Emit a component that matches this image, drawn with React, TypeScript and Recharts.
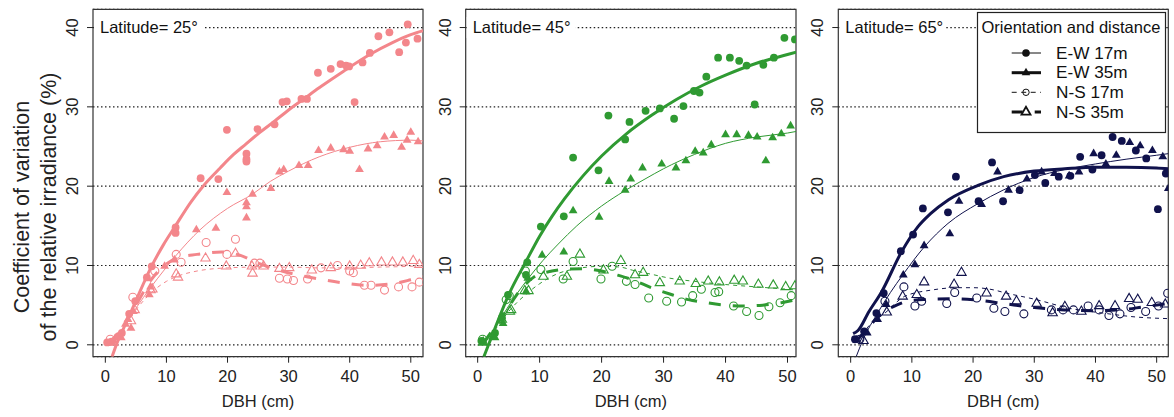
import React from "react";
import {
  ComposedChart,
  XAxis,
  YAxis,
  CartesianGrid,
  Scatter,
  Line,
  ReferenceArea
} from "recharts";

type Pt = [number, number];

const FONT = "'Liberation Sans', Arial, Helvetica, sans-serif";
const xTicks = [0, 10, 20, 30, 40, 50];
const yTicks = [0, 10, 20, 30, 40];
const yDomain: [number, number] = [-1.5, 42.3];

// latitude 25
const lat25Dots: Pt[] = [[0.3,0.3],[1.0,0.4],[2.0,1.0],[2.7,1.5],[3.9,3.9],[4.9,5.5],[6.8,8.5],[7.6,9.9],[11.5,14.1],[11.5,14.8],[15.6,21.0],[18.5,20.9],[19.9,27.1],[23.1,23.1],[23.1,23.4],[23.1,24.1],[24.9,27.2],[27.7,27.8],[29.0,30.6],[29.7,30.7],[32.1,31.0],[33.0,31.0],[34.8,34.3],[36.9,34.8],[38.5,35.4],[39.4,35.2],[39.9,35.1],[40.8,30.6],[42.1,35.6],[43.3,36.8],[44.7,38.9],[46.5,39.4],[48.1,36.9],[49.2,38.1],[49.5,40.4],[51.1,38.6]];
const lat25Tris: Pt[] = [[1.3,0.5],[2.6,0.9],[3.3,2.6],[3.7,3.2],[4.2,2.1],[4.6,4.2],[7.2,6.3],[7.4,7.3],[9.7,9.9],[11.3,10.7],[14.9,14.5],[18.1,14.7],[19.9,19.2],[23.1,16.0],[23.1,17.4],[23.1,17.9],[24.1,19.0],[27.1,19.7],[28.5,21.8],[29.2,22.1],[31.7,22.6],[33.2,22.6],[34.9,24.5],[36.9,24.8],[39.0,24.6],[40.0,24.4],[41.6,22.1],[43.0,24.7],[44.5,25.1],[45.7,26.2],[47.2,26.4],[48.5,24.9],[49.4,25.8],[50.0,26.8],[51.2,25.6]];
const lat25Rings: Pt[] = [[0.8,0.7],[4.5,6.0],[8.1,9.3],[11.6,11.4],[12.4,10.4],[16.5,12.9],[19.9,11.4],[21.3,13.3],[24.4,10.3],[25.3,10.3],[28.5,8.4],[29.8,8.3],[30.8,8.1],[33.1,8.3],[35.3,9.7],[38.0,10.0],[40.0,9.3],[40.6,9.1],[42.4,7.5],[43.5,7.5],[45.7,6.9],[48.0,7.3],[50.2,7.3],[51.4,7.9]];
const lat25OpenTris: Pt[] = [[1.3,0.3],[4.2,3.0],[4.8,4.4],[7.4,6.9],[7.7,7.0],[11.6,8.9],[11.9,8.5],[16.4,10.9],[19.8,9.9],[21.3,11.5],[24.0,9.9],[24.1,9.0],[25.9,9.9],[28.5,9.6],[30.1,9.7],[33.8,9.4],[36.9,9.7],[40.0,9.9],[41.8,10.0],[43.2,10.3],[45.2,10.4],[47.0,10.4],[48.7,10.4],[50.4,10.6],[51.4,10.1]];
const lat25ThickSolid: Pt[] = [[1.1,-1.5],[2,0.4],[3,2.1],[4.8,5.2],[7.5,9.8],[9.5,12.6],[11.4,14.9],[14,18.0],[16,20.0],[18.8,22.3],[21,24.0],[23,25.3],[25,26.6],[27.7,28.2],[30,29.6],[32.5,31.0],[35,32.4],[39,34.5],[43.3,36.6],[47,38.1],[50,39.1],[52,39.6]];
const lat25ThinSolid: Pt[] = [[1,0],[3,2.2],[5,4.6],[7.5,7.3],[9.5,9.3],[11.5,11.2],[15.5,14.5],[20,17.2],[24.1,19.0],[27,20.6],[30,21.9],[35,23.7],[40,24.9],[45,25.6],[50,25.8],[52,25.7]];
const lat25ThickDash: Pt[] = [[1,0.3],[3,2.5],[5,5.0],[7.5,8.2],[10,10.2],[12,11.0],[15,11.4],[19,11.7],[22,11.3],[25,10.3],[28,9.5],[31,8.9],[35,8.3],[39,7.8],[43,7.5],[47,7.7],[50,8.2],[52,8.6]];
const lat25ThinDash: Pt[] = [[1,0.3],[3,2.2],[5,4.4],[8,6.9],[10,8.0],[12,8.7],[15,9.3],[20,9.7],[25,9.8],[30,9.8],[35,9.7],[40,9.7],[45,9.8],[50,9.9],[52,10.0]];

// latitude 45
const lat45Dots: Pt[] = [[0.6,0.5],[2.8,1.5],[3.9,3.4],[4.9,6.3],[7.8,8.8],[8.0,10.4],[10.2,14.9],[13.9,16.2],[15.4,23.6],[19.5,22.0],[21.1,28.9],[23.8,25.9],[24.5,28.1],[27.1,29.5],[29.4,29.8],[31.7,28.5],[33.2,30.1],[34.9,32.0],[35.8,31.8],[36.9,33.8],[38.8,36.2],[40.7,36.2],[42.2,35.8],[43.4,35.2],[44.7,30.3],[46.1,35.3],[47.8,36.2],[49.5,38.7],[51.2,38.5]];
const lat45Tris: Pt[] = [[0.9,0.3],[2.4,1.0],[2.8,0.9],[3.9,3.6],[4.1,2.7],[7.8,6.7],[8.1,8.4],[10.4,11.3],[13.9,11.7],[15.4,16.9],[19.6,16.1],[21.2,20.6],[23.8,19.5],[24.7,20.9],[26.6,22.3],[29.7,22.8],[32.0,22.3],[33.6,23.2],[35.1,24.4],[36.4,24.2],[37.7,25.2],[40.0,26.5],[41.8,26.5],[43.7,26.4],[45.1,26.2],[46.5,23.2],[47.6,26.1],[49.0,26.6],[50.5,27.6]];
const lat45Rings: Pt[] = [[0.8,0.7],[4.6,5.7],[5.1,6.2],[7.7,9.3],[10.2,9.5],[13.8,8.3],[15.4,10.5],[19.9,8.3],[21.7,9.9],[24.0,8.0],[25.4,7.6],[27.6,5.9],[30.5,5.5],[32.9,5.4],[34.7,6.2],[36.1,7.0],[38.3,6.6],[38.9,6.7],[41.3,4.9],[43.4,4.2],[45.4,3.7],[47.0,4.8],[48.8,5.3],[50.6,6.2]];
const lat45OpenTris: Pt[] = [[0.9,0.3],[3.9,3.2],[5.2,4.2],[5.4,4.4],[7.6,6.8],[8.2,6.8],[10.6,8.6],[14.4,8.6],[16.5,11.4],[20.3,9.4],[23.1,10.6],[25.4,8.8],[26.7,9.1],[29.4,7.8],[32.6,8.0],[35.2,7.7],[37.2,8.0],[39.0,7.9],[41.4,8.1],[42.8,8.0],[45.3,7.6],[47.7,7.5],[49.7,7.3],[51.2,7.4]];
const lat45ThickSolid: Pt[] = [[1,-1.5],[2,0.5],[3,2.5],[5,6.3],[7.8,10.5],[10,13.7],[12,16.2],[14,18.4],[17,21.3],[20,23.8],[24,26.6],[28,28.9],[32,30.9],[36,32.6],[40,34.0],[45,35.5],[50,36.6],[51.4,36.9]];
const lat45ThinSolid: Pt[] = [[1,0],[3,2.4],[5,4.9],[8,8.2],[10.5,10.6],[13,12.7],[16,15.0],[20,17.5],[23.7,19.4],[27,20.9],[30,22.2],[35,24.0],[40,25.4],[45,26.2],[50,26.7],[51.4,26.9]];
const lat45ThickDash: Pt[] = [[1,0.3],[3,2.5],[5,4.8],[7,7.0],[9,8.5],[12,9.3],[14,9.5],[17,9.6],[20,9.3],[22.5,8.8],[25,8.2],[28,7.2],[31,6.4],[34,5.7],[37,5.3],[40,5.0],[43,4.9],[46,5.0],[49,5.3],[51.4,5.7]];
const lat45ThinDash: Pt[] = [[1,0.3],[3,2.1],[5,4.2],[8,6.5],[10,7.7],[13,9.0],[16,9.6],[20,9.9],[23,9.8],[25,9.4],[28,8.9],[31,8.4],[35,8.0],[40,7.6],[45,7.3],[50,7.0],[51.4,6.9]];

// latitude 65
const lat65Dots: Pt[] = [[0.7,0.7],[2.2,1.7],[4.2,4.0],[5.4,6.5],[8.2,11.8],[10.2,13.9],[11.8,17.2],[15.9,16.7],[17.2,21.2],[20.9,18.1],[23.1,23.0],[24.9,18.1],[27.6,19.5],[30.1,21.4],[31.8,20.4],[34.0,21.2],[35.9,21.3],[37.5,23.7],[39.5,22.1],[41.0,23.9],[42.8,26.2],[44.3,25.7],[46.6,24.5],[48.3,23.5],[50.2,17.1],[51.5,21.6]];
const lat65Tris: Pt[] = [[1.0,0.6],[2.7,1.5],[4.4,3.2],[5.8,5.1],[8.6,8.8],[10.5,10.1],[12.0,12.5],[16.2,14.0],[17.7,18.1],[21.4,17.7],[24.0,21.8],[25.8,19.5],[28.8,20.9],[31.2,21.8],[33.3,21.6],[35.7,21.3],[37.3,21.8],[39.7,24.1],[41.7,22.8],[43.4,23.9],[45.6,25.5],[47.3,25.1],[49.3,24.5],[51.0,23.7],[51.9,19.7]];
const lat65Rings: Pt[] = [[1.5,0.7],[5.6,5.5],[8.7,7.3],[10.5,4.9],[11.6,5.5],[15.7,5.2],[17.0,6.6],[20.6,5.9],[23.4,4.6],[25.2,4.2],[28.3,3.9],[32.8,4.4],[34.7,4.4],[36.4,4.4],[38.8,4.9],[40.6,4.4],[42.2,3.7],[44.0,3.9],[45.8,4.7],[48.2,4.2],[50.3,4.9],[51.8,6.5]];
const lat65OpenTris: Pt[] = [[2.1,0.5],[5.9,4.1],[8.5,6.1],[10.8,6.3],[12.0,7.9],[16.9,7.6],[18.1,9.1],[22.2,6.5],[25.4,6.1],[27.1,5.5],[30.4,5.2],[33.0,4.0],[35.0,4.8],[37.7,4.2],[40.6,4.9],[43.2,4.9],[45.5,5.8],[46.9,5.7],[49.2,5.3],[51.4,5.1]];
const lat65ThickSolid: Pt[] = [[0.4,1.4],[1.2,1.8],[3,4.2],[5,6.6],[8.3,11.7],[11,14.9],[13,16.5],[16,18.3],[20.8,20.1],[25,21.2],[30,21.9],[35,22.2],[40,22.4],[45,22.4],[50,22.3],[51.9,22.2]];
const lat65ThinSolid: Pt[] = [[0.9,-1.5],[2,0.6],[4.4,4.0],[6.5,6.6],[8.5,8.8],[12.1,12.4],[15.9,15.3],[20.8,17.8],[24.9,19.5],[30,21.1],[35,22.1],[40,22.8],[45,23.4],[50,23.9],[51.9,24.1]];
const lat65ThickDash: Pt[] = [[1,0.5],[3,2.3],[5,3.9],[7.5,5.0],[9.4,5.5],[12,5.7],[17,5.8],[21,5.6],[25,5.2],[30,4.7],[35,4.4],[40,4.3],[44,4.4],[48,4.8],[51.9,5.2]];
const lat65ThinDash: Pt[] = [[1,0.5],[3,2.4],[5.6,4.0],[8.8,6.1],[13.2,6.9],[17.5,7.2],[20,7.2],[23.5,6.9],[25,6.6],[30.3,5.7],[35.8,4.6],[41.2,4.0],[46.7,3.5],[51.9,3.3]];

const legendLabels = ["E-W 17m", "E-W 35m", "N-S 17m", "N-S 35m"];

const xy = (pts: Pt[]) => pts.map(([x, y]) => ({ x, y }));

const triPts = (cx: number, cy: number, h: number) =>
  `${cx},${cy - 1.155 * h} ${cx - h},${cy + 0.577 * h} ${cx + h},${cy + 0.577 * h}`;

const dotShape = (c: string) => (s: any) => <circle cx={s.cx} cy={s.cy} r={3.9} fill={c} />;
const triShape = (c: string) => (s: any) => <polygon points={triPts(s.cx, s.cy, 4.4)} fill={c} />;
const ringShape = (c: string) => (s: any) => (
  <circle cx={s.cx} cy={s.cy} r={4} fill="none" stroke={c} strokeWidth={1.1} />
);
const openTriShape = (c: string) => (s: any) => (
  <polygon points={triPts(s.cx, s.cy, 4.7)} fill="none" stroke={c} strokeWidth={1.1} />
);

type PanelDef = {
  label: string;
  color: string;
  left: number;
  width: number;
  plotLeft: number;
  plotRight: number;
  xDomain: [number, number];
  dots: Pt[];
  tris: Pt[];
  rings: Pt[];
  openTris: Pt[];
  thickSolid: Pt[];
  thinSolid: Pt[];
  thickDash: Pt[];
  thinDash: Pt[];
};

const panels: PanelDef[] = [
  {
    label: "Latitude= 25°", color: "#F3868B", left: 0, width: 430, plotLeft: 93, plotRight: 423,
    xDomain: [-2.02, 52.0],
    dots: lat25Dots, tris: lat25Tris, rings: lat25Rings, openTris: lat25OpenTris,
    thickSolid: lat25ThickSolid, thinSolid: lat25ThinSolid, thickDash: lat25ThickDash, thinDash: lat25ThinDash
  },
  {
    label: "Latitude= 45°", color: "#2F9A32", left: 430, width: 372, plotLeft: 465.7, plotRight: 796,
    xDomain: [-1.93, 51.37],
    dots: lat45Dots, tris: lat45Tris, rings: lat45Rings, openTris: lat45OpenTris,
    thickSolid: lat45ThickSolid, thinSolid: lat45ThinSolid, thickDash: lat45ThickDash, thinDash: lat45ThinDash
  },
  {
    label: "Latitude= 65°", color: "#10124C", left: 802, width: 372, plotLeft: 838.3, plotRight: 1168.3,
    xDomain: [-2.02, 51.9],
    dots: lat65Dots, tris: lat65Tris, rings: lat65Rings, openTris: lat65OpenTris,
    thickSolid: lat65ThickSolid, thinSolid: lat65ThinSolid, thickDash: lat65ThickDash, thinDash: lat65ThinDash
  }
];

const Y_W = 30;

function Panel({ p }: { p: PanelDef }) {
  const localLeft = p.plotLeft - p.left;
  const localRight = p.plotRight - p.left;
  const c = p.color;
  return (
    <div style={{ position: "absolute", left: p.left, top: 0 }}>
      <ComposedChart
        width={p.width}
        height={417}
        margin={{ top: 9.3, right: p.width - localRight, bottom: 10.3, left: localLeft - Y_W }}
      >
        <CartesianGrid vertical={false} stroke="#222" strokeWidth={1.2} strokeDasharray="1.5 2.5" />
        <XAxis
          type="number"
          dataKey="x"
          domain={p.xDomain}
          ticks={xTicks}
          interval={0}
          allowDataOverflow
          axisLine={false}
          tickLine={{ stroke: "#222" }}
          tickSize={6}
          height={50}
          tick={(t: any) => (
            <text x={t.x} y={381.7} textAnchor="middle" fontFamily={FONT} fontSize={16.5} fill="#222">
              {t.payload.value}
            </text>
          )}
          label={{
            content: () => (
              <text x={(localLeft + localRight) / 2} y={407} textAnchor="middle" fontFamily={FONT} fontSize={16.5} fill="#222">
                DBH (cm)
              </text>
            )
          }}
        />
        <YAxis
          type="number"
          dataKey="y"
          domain={yDomain}
          ticks={yTicks}
          interval={0}
          allowDataOverflow
          axisLine={false}
          tickLine={{ stroke: "#222" }}
          tickSize={6}
          width={Y_W}
          tick={(t: any) => (
            <text
              x={localLeft - 15}
              y={t.y}
              transform={`rotate(-90 ${localLeft - 15} ${t.y})`}
              textAnchor="middle"
              fontFamily={FONT}
              fontSize={16.5}
              fill="#222"
            >
              {t.payload.value}
            </text>
          )}
        />
        <Scatter data={xy(p.dots)} shape={dotShape(c)} isAnimationActive={false} />
        <Scatter data={xy(p.tris)} shape={triShape(c)} isAnimationActive={false} />
        <Scatter data={xy(p.rings)} shape={ringShape(c)} isAnimationActive={false} />
        <Scatter data={xy(p.openTris)} shape={openTriShape(c)} isAnimationActive={false} />
        <Line data={xy(p.thinSolid)} dataKey="y" type="monotoneX" stroke={c} strokeWidth={1} dot={false} activeDot={false} isAnimationActive={false} />
        <Line data={xy(p.thickSolid)} dataKey="y" type="monotoneX" stroke={c} strokeWidth={3} dot={false} activeDot={false} isAnimationActive={false} />
        <Line data={xy(p.thinDash)} dataKey="y" type="monotoneX" stroke={c} strokeWidth={1} strokeDasharray="4 4" dot={false} activeDot={false} isAnimationActive={false} />
        <Line data={xy(p.thickDash)} dataKey="y" type="monotoneX" stroke={c} strokeWidth={3} strokeDasharray="12 12" dot={false} activeDot={false} isAnimationActive={false} />
        <ReferenceArea
          x1={p.xDomain[0]}
          x2={p.xDomain[1]}
          y1={yDomain[0]}
          y2={yDomain[1]}
          fill="none"
          stroke="#333"
          strokeWidth={1.2}
          ifOverflow="visible"
        />
      </ComposedChart>
    </div>
  );
}

function Overlay() {
  const lx1 = 1011.7;
  const lx2 = 1041;
  const mx = 1026;
  const rowsY = [53, 72.7, 92.3, 112];
  const k = "#111";
  return (
    <svg width={1174} height={417} style={{ position: "absolute", left: 0, top: 0 }}>
      <g fontFamily={FONT} fill="#222">
        <text x={28.8} y={207} transform="rotate(-90 28.8 207)" textAnchor="middle" fontSize={21.5}>
          Coefficient of variation
        </text>
        <text x={55.5} y={207} transform="rotate(-90 55.5 207)" textAnchor="middle" fontSize={21.5}>
          of the relative irradiance (%)
        </text>
      </g>
      {panels.map(p => (
        <g key={p.label}>
          <rect x={p.plotLeft + 1} y={17} width={p.label === "Latitude= 65°" ? 106 : 109} height={21} fill="#fff" />
          <text x={p.plotLeft + 7} y={33} fontFamily={FONT} fontSize={16.5} fill="#111">
            {p.label}
          </text>
        </g>
      ))}
      <rect x={977.5} y={12.5} width={188} height={120} fill="#fff" stroke="#222" strokeWidth={1.2} />
      <text x={981.5} y={33} fontFamily={FONT} fontSize={16.5} fill="#111">
        Orientation and distance
      </text>
      <line x1={lx1} x2={lx2} y1={rowsY[0]} y2={rowsY[0]} stroke={k} strokeWidth={1} />
      <circle cx={mx} cy={rowsY[0]} r={3.8} fill={k} />
      <line x1={lx1} x2={lx2} y1={rowsY[1]} y2={rowsY[1]} stroke={k} strokeWidth={3} />
      <polygon points={triPts(mx, rowsY[1], 4.3)} fill={k} />
      <line x1={lx1} x2={lx2} y1={rowsY[2]} y2={rowsY[2]} stroke={k} strokeWidth={1} strokeDasharray="5 4.5" />
      <circle cx={mx} cy={rowsY[2]} r={3.2} fill="none" stroke={k} strokeWidth={1} />
      <line x1={lx1} x2={lx2} y1={rowsY[3]} y2={rowsY[3]} stroke={k} strokeWidth={3} strokeDasharray="11 12" />
      <polygon points={triPts(mx, rowsY[3], 4.5)} fill="#fff" stroke={k} strokeWidth={1.8} />
      {legendLabels.map((t, i) => (
        <text key={t} x={1056} y={rowsY[i] + 5.5} fontFamily={FONT} fontSize={17.2} fill="#111">
          {t}
        </text>
      ))}
    </svg>
  );
}

export default function App() {
  return (
    <div style={{ position: "absolute", left: 0, top: 0, width: 1174, height: 417, background: "#fff" }}>
      {panels.map(p => (
        <Panel key={p.label} p={p} />
      ))}
      <Overlay />
    </div>
  );
}
